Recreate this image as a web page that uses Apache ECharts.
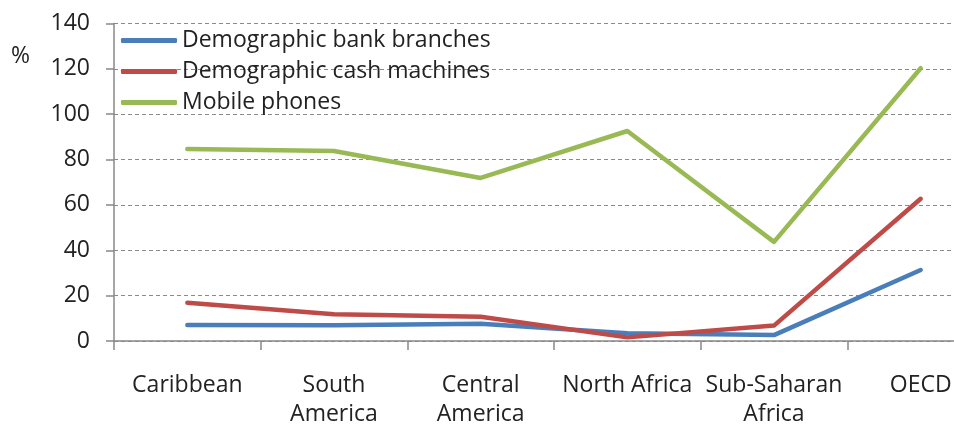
<!DOCTYPE html>
<html>
<head>
<meta charset="utf-8">
<script src="https://cdn.jsdelivr.net/npm/echarts@6/dist/echarts.min.js"></script>
<style>
html,body{margin:0;padding:0;background:#fff;}
#c{width:954px;height:425px;}
</style>
</head>
<body>
<div id="c"></div>
<script>
const categories = ['Caribbean', 'South\nAmerica', 'Central\nAmerica', 'North Africa', 'Sub-Saharan\nAfrica', 'OECD'];
const bankBranches = [7.1, 7.0, 7.6, 3.4, 2.6, 31.3];
const cashMachines = [16.9, 11.8, 10.7, 1.6, 6.8, 62.7];
const mobilePhones = [84.7, 83.8, 71.9, 92.6, 43.7, 120.3];
const seriesNames = ['Demographic bank branches', 'Demographic cash machines', 'Mobile phones'];
const yTicks = { min: 0, max: 140, interval: 20 };

const FONT = 'Open Sans';
const FS = 23;
const TXT = '#222';
const chart = echarts.init(document.getElementById('c'));
const colors = ['#4A7EBB', '#BE4B48', '#98B954'];
const mk = (name, data, i) => ({
  name, type: 'line', data, showSymbol: false, symbol: 'none',
  lineStyle: { width: 4.5, color: colors[i], cap: 'round', join: 'round' },
  itemStyle: { color: colors[i] },
  z: 3 + i, animation: false
});
chart.setOption({
  animation: false,
  backgroundColor: '#fff',
  grid: { left: 114, width: 880, top: 23.5, height: 317.5, containLabel: false, outerBoundsMode: 'none' },
  legend: {
    orient: 'vertical', left: 121, top: 29, itemWidth: 56, itemHeight: 5, itemGap: 8,
    icon: 'roundRect', padding: 0,
    textStyle: { fontFamily: FONT, fontSize: FS, lineHeight: 23, color: TXT },
    data: seriesNames
  },
  xAxis: {
    type: 'category', data: categories, boundaryGap: true,
    axisLine: { lineStyle: { color: '#888', width: 1.5 } },
    axisTick: { show: true, length: 9, alignWithLabel: false, lineStyle: { color: '#888', width: 1.5 } },
    axisLabel: { interval: 0, margin: 30, fontFamily: FONT, fontSize: FS, lineHeight: 29, color: TXT },
    splitLine: { show: false }
  },
  yAxis: {
    type: 'value', min: yTicks.min, max: yTicks.max, interval: yTicks.interval,
    axisLine: { show: true, lineStyle: { color: '#888', width: 1.5 } },
    axisTick: { show: true, length: 8, lineStyle: { color: '#888', width: 1.5 } },
    axisLabel: { margin: 24, fontFamily: FONT, fontSize: FS, color: TXT },
    splitLine: { show: true, lineStyle: { color: '#8a8a8a', type: [4, 3], width: 1 } }
  },
  graphic: [{ type: 'text', left: 11, top: 45, style: { text: '%', fontFamily: FONT, fontSize: FS, fill: TXT } }],
  series: [mk(seriesNames[0], bankBranches, 0), mk(seriesNames[1], cashMachines, 1), mk(seriesNames[2], mobilePhones, 2)]
});
</script>
</body>
</html>
